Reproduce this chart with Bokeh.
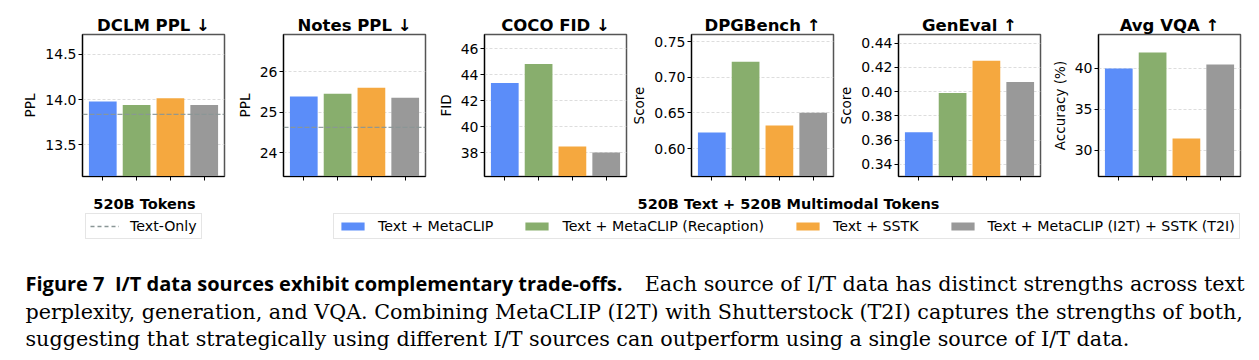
from bokeh.plotting import figure
from bokeh.models import (Range1d, FixedTicker, PrintfTickFormatter, Span, Label,
                          Legend, LegendItem, ColumnDataSource)
from bokeh.layouts import row, column
from bokeh.embed import file_html
from bokeh.resources import INLINE

# ---------------- data ----------------
series = ["Text + MetaCLIP", "Text + MetaCLIP (Recaption)", "Text + SSTK",
          "Text + MetaCLIP (I2T) + SSTK (T2I)"]
colors = ["#5B8DF9", "#88AE6D", "#F5A83F", "#999999"]

titles = ["DCLM PPL \u2193", "Notes PPL \u2193", "COCO FID \u2193",
          "DPGBench \u2191", "GenEval \u2191", "Avg VQA \u2191"]
ylabels = ["PPL", "PPL", "FID", "Score", "Score", "Accuracy (%)"]

dclm_ppl = [13.98, 13.94, 14.015, 13.94]
notes_ppl = [25.39, 25.46, 25.61, 25.36]
coco_fid = [43.36, 44.82, 38.46, 38.00]
dpgbench = [0.6225, 0.722, 0.6323, 0.6504]
geneval = [0.3666, 0.399, 0.4255, 0.408]
avg_vqa = [39.96, 41.9, 31.46, 40.45]
text_only = [13.837, 24.63, None, None, None, None]

values = [dclm_ppl, notes_ppl, coco_fid, dpgbench, geneval, avg_vqa]
yticks = [[13.5, 14.0, 14.5], [24, 25, 26], [38, 40, 42, 44, 46],
          [0.60, 0.65, 0.70, 0.75], [0.34, 0.36, 0.38, 0.40, 0.42, 0.44],
          [30, 35, 40]]
yfmt = ["%.1f", "%d", "%d", "%.2f", "%.2f", "%d"]
ylims = [(13.15, 14.72), (23.42, 26.92), (36.15, 47.1),
         (0.5607, 0.7603), (0.3301, 0.4472), (26.84, 44.09)]

legend_title_left = "520B Tokens"
legend_title_right = "520B Text + 520B Multimodal Tokens"
text_only_label = "Text-Only"

caption_bold = "Figure 7\u00a0 I/T data sources exhibit complementary trade-offs."
caption_l1 = "Each source of I/T data has distinct strengths across text"
caption_l2 = ("perplexity, generation, and VQA. Combining MetaCLIP (I2T) with "
              "Shutterstock (T2I) captures the strengths of both,")
caption_l3 = ("suggesting that strategically using different I/T sources can "
              "outperform using a single source of I/T data.")

FONT = "DejaVu Sans"
lefts = [82, 57, 57, 57, 58, 56]
rights = [2, 2, 2, 2, 2, 28]

figs = []
for i in range(6):
    p = figure(frame_width=142, frame_height=142,
               min_border_left=lefts[i], min_border_right=rights[i],
               min_border_top=34, min_border_bottom=10,
               x_range=Range1d(-0.6, 3.6), y_range=Range1d(*ylims[i]),
               output_backend="svg", toolbar_location=None, title=titles[i])
    src = ColumnDataSource(dict(x=[0, 1, 2, 3], top=values[i], color=colors))
    p.vbar(x="x", top="top", width=0.82, bottom=0, color="color", source=src,
           line_color=None)
    if text_only[i] is not None:
        p.add_layout(Span(location=text_only[i], dimension="width",
                          line_color="#8a9696", line_dash="5 2",
                          line_width=1.4, line_alpha=0.9))
    p.title.align = "center"
    p.title.text_font = FONT
    p.title.text_font_size = "16.5px"
    p.title.text_font_style = "bold"
    p.title.text_color = "black"
    p.title.standoff = 0
    p.outline_line_color = "#555555"
    p.outline_line_width = 1.5
    p.xgrid.visible = False
    p.ygrid.grid_line_color = "#dddddd"
    p.ygrid.grid_line_dash = "3 2"
    p.ygrid.grid_line_width = 1
    p.xaxis.ticker = FixedTicker(ticks=[0, 1, 2, 3])
    p.xaxis.major_label_overrides = {0: "", 1: "", 2: "", 3: ""}
    p.xaxis.major_label_standoff = 0
    p.yaxis.ticker = FixedTicker(ticks=yticks[i])
    p.yaxis.formatter = PrintfTickFormatter(format=yfmt[i])
    p.yaxis.axis_label = ylabels[i]
    p.yaxis.axis_label_text_font = FONT
    p.yaxis.axis_label_text_font_size = "13.5px"
    p.yaxis.axis_label_text_font_style = "normal"
    p.yaxis.axis_label_text_color = "black"
    p.yaxis.axis_label_standoff = 4
    p.yaxis.major_label_text_font = FONT
    p.yaxis.major_label_text_font_size = "14px"
    p.yaxis.major_label_text_color = "black"
    p.yaxis.major_label_standoff = 2
    for ax in (p.xaxis, p.yaxis):
        ax.axis_line_color = "black"
        ax.axis_line_width = 1.2
        ax.major_tick_out = 4
        ax.major_tick_in = 0
        ax.major_tick_line_color = "black"
        ax.minor_tick_line_color = None
    figs.append(p)

# --------- bottom: legends + caption ---------
W, H = 1259, 174
b = figure(frame_width=W, frame_height=H, min_border=0,
           x_range=Range1d(0, 1), y_range=Range1d(0, 1),
           output_backend="svg", toolbar_location=None)
b.axis.visible = False
b.grid.visible = False
b.outline_line_color = None

# hidden (off-frame) proxies that only feed the legend swatches
proxy = ColumnDataSource(dict(x=[-5, -4], top=[-5, -5]))
items = []
for name, c in zip(series, colors):
    r = b.vbar(x="x", top="top", width=0.1, bottom=-6, source=proxy, color=c,
               line_color=None)
    items.append(LegendItem(label=name, renderers=[r]))
lr = b.line(x="x", y="top", source=proxy, line_color="#8a9696", line_dash="4 3",
            line_width=1.4)

def style_legend(lg):
    lg.orientation = "horizontal"
    lg.label_text_font = FONT
    lg.label_text_font_size = "14.2px"
    lg.label_text_color = "black"
    lg.label_height = 15
    lg.glyph_height = 10
    lg.glyph_width = 29
    lg.label_standoff = 11
    lg.padding = 4
    lg.margin = 0
    lg.spacing = 29
    lg.border_line_color = "#cccccc"
    lg.border_line_width = 1
    lg.background_fill_color = "white"
    lg.background_fill_alpha = 1

lg_main = Legend(items=items, location=(333, 121))
style_legend(lg_main)
b.add_layout(lg_main)
lg_txt = Legend(items=[LegendItem(label=text_only_label, renderers=[lr])],
                location=(85, 121))
style_legend(lg_txt)
b.add_layout(lg_txt)

for txt, xx in ((legend_title_left, 144), (legend_title_right, 788)):
    b.add_layout(Label(x=xx, y=157, x_units="screen", y_units="screen", text=txt,
                       text_align="center", text_baseline="alphabetic",
                       text_font=FONT, text_font_size="14.5px",
                       text_font_style="bold", text_color="black"))

SERIF = "DejaVu Serif"
b.add_layout(Label(x=25, y=77, x_units="screen", y_units="screen", text=caption_bold,
                   text_align="left", text_baseline="alphabetic",
                   text_font="Open Sans", text_font_size="20px",
                   text_font_style="bold", text_color="black"))
b.add_layout(Label(x=1244, y=77, x_units="screen", y_units="screen", text=caption_l1,
                   text_align="right", text_baseline="alphabetic",
                   text_font=SERIF, text_font_size="20.7px", text_color="black"))
b.add_layout(Label(x=25, y=49, x_units="screen", y_units="screen", text=caption_l2,
                   text_align="left", text_baseline="alphabetic",
                   text_font=SERIF, text_font_size="20.7px", text_color="black"))
b.add_layout(Label(x=25, y=22, x_units="screen", y_units="screen", text=caption_l3,
                   text_align="left", text_baseline="alphabetic",
                   text_font=SERIF, text_font_size="20.7px", text_color="black"))

layout = column(row(*figs), b)
open("out.html", "w").write(file_html(layout, INLINE))
